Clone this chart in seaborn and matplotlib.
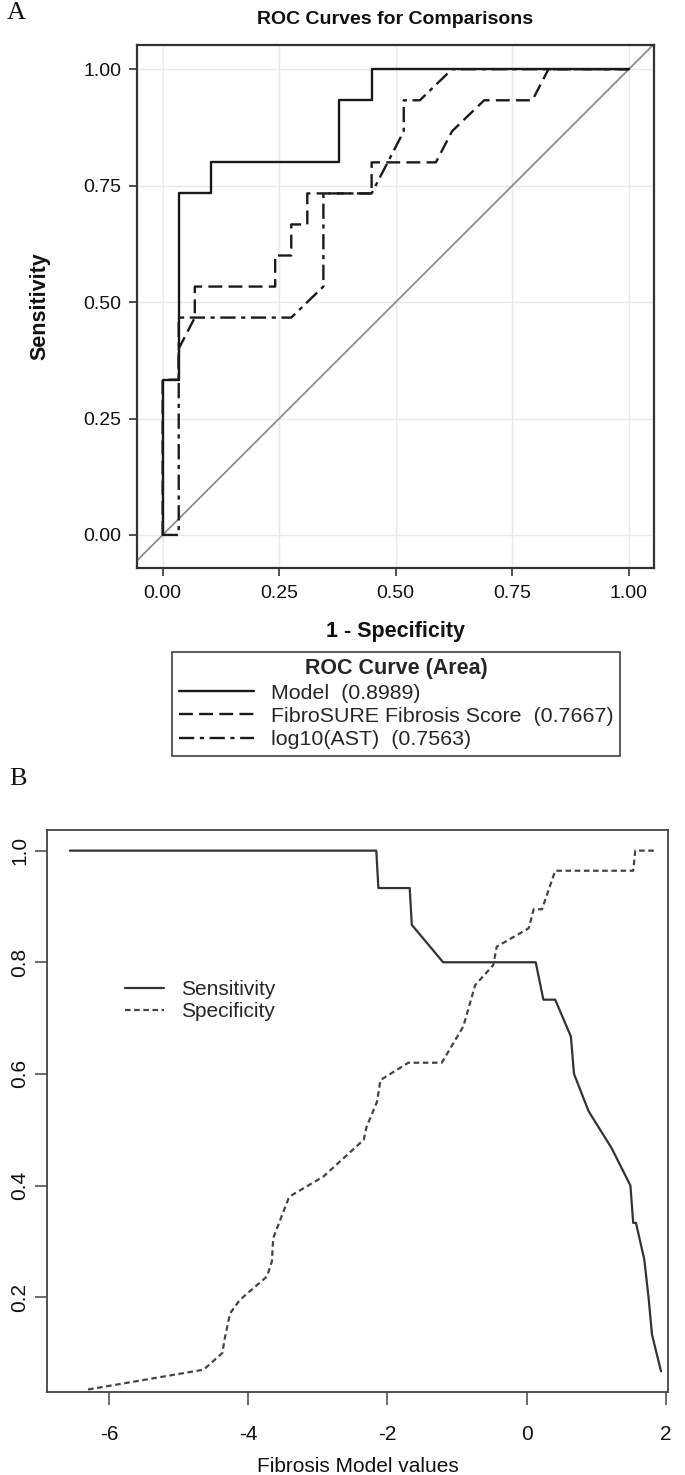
import numpy as np
import pandas as pd
import matplotlib
matplotlib.use("Agg")
import matplotlib.pyplot as plt
from matplotlib.lines import Line2D
import seaborn as sns

sns.set_theme(style="white")
plt.rcParams['font.family'] = ['Liberation Sans', 'DejaVu Sans']
plt.rcParams['lines.scale_dashes'] = False

# ---------------- Panel A data (ROC curves) ----------------
model_fpr = [0, 0, 0.0345, 0.0345, 0.1034, 0.1034, 0.3793, 0.3793, 0.4483, 0.4483, 1.0]
model_tpr = [0, 0.3333, 0.3333, 0.7333, 0.7333, 0.8, 0.8, 0.9333, 0.9333, 1.0, 1.0]
fibro_fpr = [0, 0, 0.0345, 0.0345, 0.069, 0.069, 0.2414, 0.2414, 0.2759, 0.2759, 0.3103,
             0.3103, 0.4483, 0.4483, 0.5862, 0.6207, 0.6897, 0.7931, 0.8276, 1.0]
fibro_tpr = [0, 0.3333, 0.3333, 0.4, 0.4667, 0.5333, 0.5333, 0.6, 0.6, 0.6667, 0.6667,
             0.7333, 0.7333, 0.8, 0.8, 0.8667, 0.9333, 0.9333, 1.0, 1.0]
ast_fpr = [0, 0.0345, 0.0345, 0.2759, 0.3448, 0.3448, 0.4483, 0.5172, 0.5172, 0.5517, 0.6207, 1.0]
ast_tpr = [0, 0, 0.4667, 0.4667, 0.5333, 0.7333, 0.7333, 0.8667, 0.9333, 0.9333, 1.0, 1.0]
roc_names = ["Model", "FibroSURE Fibrosis Score", "log10(AST)"]
roc_areas = ["0.8989", "0.7667", "0.7563"]
a_ticks = [0.00, 0.25, 0.50, 0.75, 1.00]
a_ticklabels = ["0.00", "0.25", "0.50", "0.75", "1.00"]

# ---------------- Panel B data (sens / spec vs cutoff) ----------------
sens_x = [-6.56, -2.16, -2.13, -1.68, -1.65, -1.20, 0.13, 0.24, 0.41, 0.635, 0.68, 0.89,
          1.22, 1.49, 1.53, 1.57, 1.69, 1.75, 1.80, 1.93]
sens_y = [1.0, 1.0, 0.933, 0.933, 0.867, 0.80, 0.80, 0.733, 0.733, 0.667, 0.60, 0.533,
          0.467, 0.40, 0.333, 0.333, 0.267, 0.20, 0.133, 0.067]
spec_x = [-6.30, -4.64, -4.37, -4.34, -4.26, -4.12, -3.73, -3.66, -3.64, -3.42, -3.37, -2.92,
          -2.34, -2.30, -2.15, -2.10, -1.70, -1.22, -0.91, -0.74, -0.48, -0.43, 0.03, 0.10,
          0.22, 0.41, 1.53, 1.56, 1.87]
spec_y = [0.0345, 0.07, 0.10, 0.124, 0.171, 0.195, 0.237, 0.264, 0.306, 0.377, 0.383, 0.416,
          0.482, 0.505, 0.55, 0.589, 0.62, 0.62, 0.685, 0.759, 0.795, 0.828, 0.861, 0.895,
          0.895, 0.964, 0.964, 1.0, 1.0]
b_xticks = [-6, -4, -2, 0, 2]
b_yticks = [0.2, 0.4, 0.6, 0.8, 1.0]
b_yticklabels = ["0.2", "0.4", "0.6", "0.8", "1.0"]

W, H = 685, 1475
fig = plt.figure(figsize=(W / 100, H / 100), dpi=100)
fig.patch.set_facecolor("white")

def fx(px):
    return px / W

def fy(py):
    return 1 - py / H

# ======================= Panel A =======================
axA = fig.add_axes([fx(137), fy(568), (654 - 137) / W, (568 - 45) / H])
axA.set_xlim(-0.055, 1.054)
axA.set_ylim(-0.071, 1.052)
axA.set_xticks(a_ticks)
axA.set_yticks(a_ticks)
axA.set_xticklabels(a_ticklabels)
axA.set_yticklabels(a_ticklabels)
axA.grid(True, color="#e9e9e9", lw=1.0)
axA.set_axisbelow(True)
axA.axline((0, 0), (1, 1), color="#8c8c8c", lw=1.3, zorder=1)

dfA = pd.concat([
    pd.DataFrame({"fpr": model_fpr, "tpr": model_tpr, "curve": roc_names[0]}),
    pd.DataFrame({"fpr": fibro_fpr, "tpr": fibro_tpr, "curve": roc_names[1]}),
    pd.DataFrame({"fpr": ast_fpr, "tpr": ast_tpr, "curve": roc_names[2]}),
])
dash_styles = {roc_names[0]: "", roc_names[1]: (10, 4.5), roc_names[2]: (11, 4, 3, 4)}
for name in roc_names:
    sub = dfA[dfA["curve"] == name]
    sns.lineplot(data=sub, x="fpr", y="tpr", sort=False, estimator=None,
                 color="#1a1a1a", lw=1.7, ax=axA, legend=False, zorder=3)
for line, name in zip(axA.lines[-3:], roc_names):
    if dash_styles[name]:
        line.set_dashes(dash_styles[name])

for s in axA.spines.values():
    s.set_color("#333333")
    s.set_linewidth(1.6)
axA.tick_params(axis="both", which="both", direction="out", length=6, width=1.2,
                color="#333333", labelsize=14, labelcolor="#111111",
                bottom=True, left=True, top=False, right=False)
axA.tick_params(axis="x", pad=6)
axA.tick_params(axis="y", pad=5)
axA.set_xlabel("1 - Specificity", fontsize=15.5, fontweight="bold", labelpad=14, color="#111111")
axA.set_ylabel("Sensitivity", fontsize=15.5, fontweight="bold", labelpad=24, color="#111111")
fig.text(fx(395.5), fy(20), "ROC Curves for Comparisons", ha="center", va="center",
         fontsize=14, fontweight="bold", color="#111111")

handles = [Line2D([], [], color="#1a1a1a", lw=1.7),
           Line2D([], [], color="#1a1a1a", lw=1.7, dashes=(10, 4.5)),
           Line2D([], [], color="#1a1a1a", lw=1.7, dashes=(11, 4, 3, 4))]
labels = [f"{n}  ({a})" for n, a in zip(roc_names, roc_areas)]
legA = fig.legend(handles, labels, title="ROC Curve (Area)", loc="upper center",
                  bbox_to_anchor=(fx(396), fy(652)), frameon=True, fancybox=False,
                  edgecolor="#333333", fontsize=15.4, handlelength=3.5, handletextpad=0.8,
                  borderpad=0.3, labelspacing=0.2, borderaxespad=0,
                  title_fontproperties={"weight": "bold", "size": 15.5})
legA.get_frame().set_linewidth(1.4)

fig.text(fx(7), fy(2), "A", ha="left", va="top", fontsize=19,
         family=["Liberation Serif", "DejaVu Serif"], color="#111111")

# ======================= Panel B =======================
axB = fig.add_axes([fx(47), fy(1392), (668 - 47) / W, (1392 - 830) / H])
axB.set_xlim(-6.89, 2.03)
axB.set_ylim(0.03, 1.037)
sns.lineplot(x=sens_x, y=sens_y, sort=False, estimator=None, color="#333333", lw=1.6,
             ax=axB, legend=False)
sns.lineplot(x=spec_x, y=spec_y, sort=False, estimator=None, color="#444444", lw=1.6,
             ax=axB, legend=False)
axB.lines[-1].set_dashes((4, 2.6))
axB.set_xticks(b_xticks)
axB.set_xticklabels([str(t) for t in b_xticks])
axB.set_yticks(b_yticks)
axB.set_yticklabels(b_yticklabels)
for lab in axB.get_yticklabels():
    lab.set_rotation(90)
    lab.set_va("center")
for s in axB.spines.values():
    s.set_color("#444444")
    s.set_linewidth(1.3)
axB.tick_params(axis="both", which="both", direction="out", length=9, width=1.1,
                color="#444444", labelsize=15, labelcolor="#111111",
                bottom=True, left=True, top=False, right=False)
axB.tick_params(axis="x", pad=15)
axB.tick_params(axis="y", pad=4)
axB.set_xlabel("Fibrosis Model values", fontsize=15, labelpad=9, color="#111111")

hB = [Line2D([], [], color="#333333", lw=1.6),
      Line2D([], [], color="#444444", lw=1.6, dashes=(4, 2.6))]
legB = axB.legend(hB, ["Sensitivity", "Specificity"], loc="center left",
                  bbox_to_anchor=(fx(125), fy(1000.5)), bbox_transform=fig.transFigure,
                  frameon=False, fontsize=15, handlelength=1.85, handletextpad=0.85,
                  borderpad=0, borderaxespad=0, labelspacing=0.15)

fig.text(fx(9), fy(768), "B", ha="left", va="top", fontsize=19,
         family=["Liberation Serif", "DejaVu Serif"], color="#111111")

fig.savefig("out.png", dpi=100, facecolor="white")
